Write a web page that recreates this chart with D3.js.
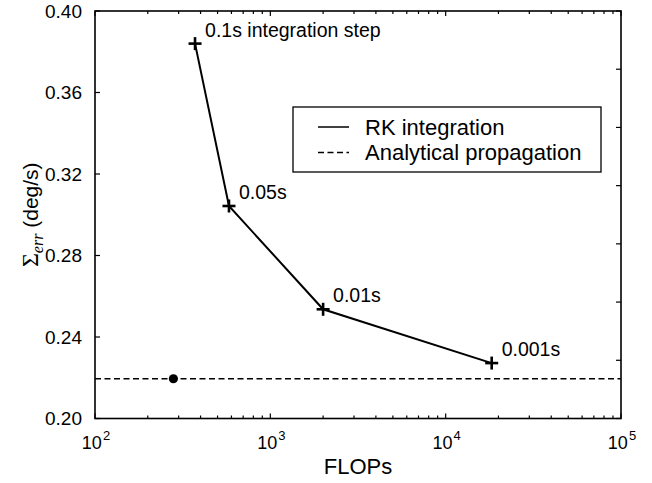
<!DOCTYPE html>
<html>
<head>
<meta charset="utf-8">
<script src="https://cdn.jsdelivr.net/npm/d3@7"></script>
<style>
  html, body { margin: 0; padding: 0; background: #fff; }
  svg { display: block; }
  text { font-family: "Liberation Sans", Arial, sans-serif; fill: #000; }
</style>
</head>
<body>
<svg id="chart" width="652" height="483"></svg>
<script>
// ---- data ----
const stepLabels = ["0.1s integration step", "0.05s", "0.01s", "0.001s"];
const rkFlops = [372, 581, 2000, 18300];
const rkErr = [0.384, 0.3043, 0.2536, 0.2272];
const analyticalFlops = [280];
const analyticalErr = [0.2195];
const xTickExponents = [2, 3, 4, 5];
const yTickValues = [0.20, 0.24, 0.28, 0.32, 0.36, 0.40];
const legendLabels = ["RK integration", "Analytical propagation"];

// ---- layout ----
const svg = d3.select("#chart");
const L = 95, R = 621, T = 11, B = 418.5;
const x = d3.scaleLog().domain([1e2, 1e5]).range([L, R]);
const y = d3.scaleLinear().domain([0.20, 0.40]).range([B, T]);
const yRight = d3.scaleLinear().domain([0, 7]).range([B, T]);
const dash = "6,3.5";

const g = svg.append("g");

// dashed analytical line
g.append("line")
  .attr("x1", x(1e2)).attr("x2", x(1e5))
  .attr("y1", y(analyticalErr[0])).attr("y2", y(analyticalErr[0]))
  .attr("stroke", "#000").attr("stroke-width", 1.5).attr("stroke-dasharray", dash);

// RK line
const rkData = rkFlops.map((f, i) => ({ f, e: rkErr[i], label: stepLabels[i] }));
g.append("path")
  .datum(rkData)
  .attr("fill", "none").attr("stroke", "#000").attr("stroke-width", 2)
  .attr("d", d3.line().x(d => x(d.f)).y(d => y(d.e)));

// plus markers
const ms = 6.5;
const marks = g.selectAll(".pm").data(rkData).enter().append("g")
  .attr("transform", d => `translate(${x(d.f)},${y(d.e)})`);
marks.append("line").attr("x1", -ms).attr("x2", ms).attr("y1", 0).attr("y2", 0)
  .attr("stroke", "#000").attr("stroke-width", 2.6);
marks.append("line").attr("x1", 0).attr("x2", 0).attr("y1", -ms).attr("y2", ms)
  .attr("stroke", "#000").attr("stroke-width", 2.6);

// labels
g.selectAll(".lab").data(rkData).enter().append("text")
  .attr("x", d => x(d.f) + 10).attr("y", d => y(d.e) - 7)
  .attr("font-size", 19.5).text(d => d.label);

// analytical dot
g.selectAll(".dot").data(analyticalFlops).enter().append("circle")
  .attr("cx", d => x(d)).attr("cy", (d, i) => y(analyticalErr[i]))
  .attr("r", 4.6).attr("fill", "#000");

// ---- axes ----
const axisG = svg.append("g");
const majorX = xTickExponents.map(e => Math.pow(10, e));
const minorX = [];
for (let e = 2; e < 5; e++) for (let k = 2; k <= 9; k++) minorX.push(k * Math.pow(10, e));

function ticks(sel, data, fx, fy1, fy2) {
  sel.selectAll(null).data(data).enter().append("line")
    .attr("x1", fx).attr("x2", fx).attr("y1", fy1).attr("y2", fy2)
    .attr("stroke", "#000").attr("stroke-width", 1.2);
}
// bottom and top x ticks
ticks(axisG, majorX, d => x(d), B, B - 5);
ticks(axisG, minorX, d => x(d), B, B - 3);
ticks(axisG, majorX, d => x(d), T, T + 5);
ticks(axisG, minorX, d => x(d), T, T + 3);
// left y ticks
axisG.selectAll(null).data(yTickValues).enter().append("line")
  .attr("x1", L).attr("x2", L + 5).attr("y1", d => y(d)).attr("y2", d => y(d))
  .attr("stroke", "#000").attr("stroke-width", 1.2);
// right ticks (secondary divisions)
axisG.selectAll(null).data(d3.range(0, 8)).enter().append("line")
  .attr("x1", R).attr("x2", R - 5).attr("y1", d => yRight(d)).attr("y2", d => yRight(d))
  .attr("stroke", "#000").attr("stroke-width", 1.2);

// box
axisG.append("rect").attr("x", L).attr("y", T).attr("width", R - L).attr("height", B - T)
  .attr("fill", "none").attr("stroke", "#000").attr("stroke-width", 1.6);

// y tick labels
axisG.selectAll(null).data(yTickValues).enter().append("text")
  .attr("x", L - 13).attr("y", d => y(d)).attr("dy", "0.35em")
  .attr("text-anchor", "end").attr("font-size", 19)
  .text(d => d3.format(".2f")(d));

// x tick labels 10^e
const xl = axisG.selectAll(null).data(xTickExponents).enter().append("text")
  .attr("x", d => x(Math.pow(10, d)) + 1).attr("y", 449)
  .attr("text-anchor", "middle").attr("font-size", 18);
xl.append("tspan").text("10");
xl.append("tspan").attr("font-size", 13).attr("dy", -9).attr("dx", 1).text(d => d);

// x title
axisG.append("text").attr("x", (L + R) / 2).attr("y", 474)
  .attr("text-anchor", "middle").attr("font-size", 22).text("FLOPs");

// y title
const yt = axisG.append("text")
  .attr("transform", `translate(38,${(T + B) / 2}) rotate(-90)`)
  .attr("text-anchor", "middle").attr("font-size", 21);
yt.append("tspan").attr("font-family", "Liberation Serif, serif").attr("font-size", 24).text("Σ");
yt.append("tspan").attr("font-family", "Liberation Serif, serif").attr("font-style", "italic")
  .attr("font-size", 16).attr("dy", 5).text("err");
yt.append("tspan").attr("dy", -5).text(" (deg/s)");

// ---- legend ----
const lg = svg.append("g");
lg.append("rect").attr("x", 293).attr("y", 107).attr("width", 308).attr("height", 65)
  .attr("fill", "#fff").attr("stroke", "#000").attr("stroke-width", 1.3);
const rows = lg.selectAll(null).data(legendLabels).enter().append("g")
  .attr("transform", (d, i) => `translate(0,${127 + i * 25.5})`);
rows.append("line").attr("x1", 318).attr("x2", 349).attr("y1", 0).attr("y2", 0)
  .attr("stroke", "#000").attr("stroke-width", 1.5)
  .attr("stroke-dasharray", (d, i) => i === 1 ? dash : null);
rows.append("text").attr("x", 365).attr("y", 0).attr("dy", "0.35em")
  .attr("font-size", 22).text(d => d);
</script>
</body>
</html>
